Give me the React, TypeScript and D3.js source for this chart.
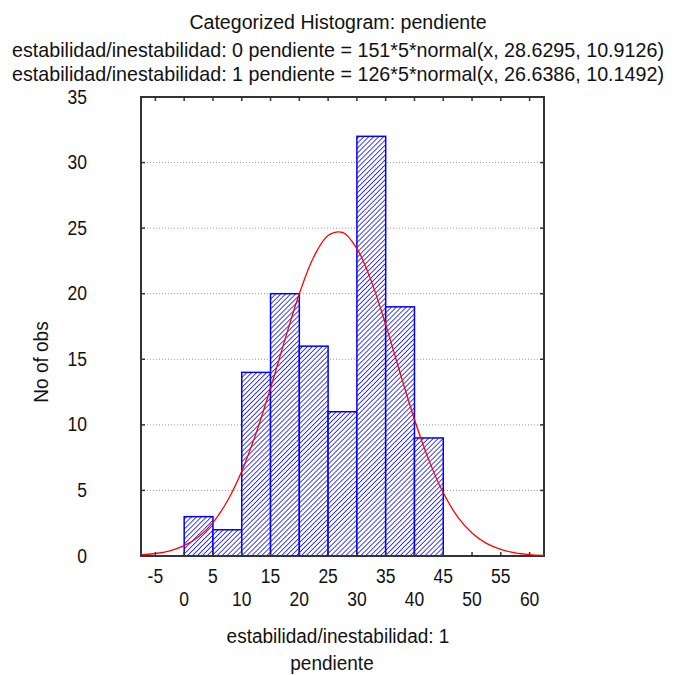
import * as d3 from 'd3';

// histogram for estabilidad/inestabilidad: 1, bins of width 5
const binStarts = [0, 5, 10, 15, 20, 25, 30, 35, 40];
const counts = [3, 2, 14, 20, 16, 11, 32, 19, 9];
const binWidth = 5;

// fitted normal curve
const curveX = [-7.5, -5, -2.5, 0, 2.5, 5, 7.5, 10, 12.5, 15, 17.5, 20, 22.5, 25, 27.5, 30, 32.5, 35, 37.5, 40, 42.5, 45, 47.5, 50, 52.5, 55, 57.5, 60, 62.5];
const curveY = [0.09, 0.19, 0.4, 0.79, 1.46, 2.55, 4.19, 6.46, 9.38, 12.8, 16.5, 20.0, 22.8, 24.44, 24.67, 23.44, 20.96, 17.64, 13.97, 10.41, 7.31, 4.82, 2.99, 1.75, 0.96, 0.5, 0.24, 0.11, 0.05];

const xTicks = [-5, 0, 5, 10, 15, 20, 25, 30, 35, 40, 45, 50, 55, 60];
const yTicks = [0, 5, 10, 15, 20, 25, 30, 35];

const title = 'Categorized Histogram: pendiente';
const subtitles = [
    'estabilidad/inestabilidad: 0 pendiente = 151*5*normal(x, 28.6295, 10.9126)',
    'estabilidad/inestabilidad: 1 pendiente = 126*5*normal(x, 26.6386, 10.1492)',
];
const xLabel = ['estabilidad/inestabilidad: 1', 'pendiente'];
const yLabel = 'No of obs';

const W = 675;
const H = 675;
const font = 'Arial, "Liberation Sans", sans-serif';
const ink = '#111';

// text in the reference is a little taller than it is wide
function Label({ x, y, size, anchor = 'middle', stretch = 1.12, children }: any) {
    return (
        <text
            transform={`translate(${x},${y}) scale(1,${stretch})`}
            textAnchor={anchor}
            fontSize={size}
            fill={ink}
        >
            {children}
        </text>
    );
}

export default function App() {
    const left = 141;
    const right = 544;
    const top = 97;
    const bottom = 556;

    const x = d3.scaleLinear().domain([-7.5, 62.5]).range([left, right]);
    const y = d3.scaleLinear().domain([0, 35]).range([bottom, top]);

    const line = d3
        .line<number>()
        .x((_, i) => x(curveX[i]))
        .y(d => y(d))
        .curve(d3.curveCatmullRom);

    return (
        <svg
            width={W}
            height={H}
            style={{ position: 'absolute', left: 0, top: 0, background: '#fff' }}
            fontFamily={font}
        >
            <defs>
                <pattern id="hatch" width="3.5" height="3.5" patternUnits="userSpaceOnUse" patternTransform="rotate(45)">
                    <rect width="3.5" height="3.5" fill="#fff" />
                    <line x1="0" y1="0" x2="0" y2="3.5" stroke="#0000ff" strokeWidth="1.5" />
                </pattern>
                <clipPath id="plot">
                    <rect x={left - 1} y={top} width={right - left + 2} height={bottom - top + 1} />
                </clipPath>
            </defs>

            <Label x={338} y={29} size={19.6} stretch={1.07}>
                {title}
            </Label>
            {subtitles.map((s, i) => (
                <Label key={s} x={338} y={56.5 + i * 24.5} size={19.7} stretch={1.07}>
                    {s}
                </Label>
            ))}

            {/* grid */}
            {yTicks
                .filter(t => t > 0 && t < 35)
                .map(t => (
                    <line
                        key={t}
                        x1={left}
                        x2={right}
                        y1={y(t)}
                        y2={y(t)}
                        stroke="#999"
                        strokeWidth={1}
                        strokeDasharray="1,2"
                    />
                ))}

            {/* bars */}
            {counts.map((c, i) => (
                <rect
                    key={i}
                    x={x(binStarts[i])}
                    y={y(c)}
                    width={x(binStarts[i] + binWidth) - x(binStarts[i])}
                    height={y(0) - y(c)}
                    fill="url(#hatch)"
                    stroke="#0000ff"
                    strokeWidth={1.5}
                />
            ))}

            {/* frame + ticks */}
            <rect x={left} y={top} width={right - left} height={bottom - top} fill="none" stroke="#333" strokeWidth={2} />
            {xTicks.map(t => (
                <g key={t}>
                    <line x1={x(t)} x2={x(t)} y1={top} y2={top + 4} stroke="#333" strokeWidth={1.5} />
                    <line x1={x(t)} x2={x(t)} y1={bottom} y2={bottom - 4} stroke="#333" strokeWidth={1.5} />
                    <Label x={x(t)} y={t % 10 === 0 ? 606 : 583} size={17.5}>
                        {t}
                    </Label>
                </g>
            ))}
            {yTicks.map(t => (
                <g key={t}>
                    <line x1={left} x2={left + 4} y1={y(t)} y2={y(t)} stroke="#333" strokeWidth={1.5} />
                    <line x1={right} x2={right - 4} y1={y(t)} y2={y(t)} stroke="#333" strokeWidth={1.5} />
                    <Label x={87} y={y(t) + 6.5} size={17.5} anchor="end">
                        {t}
                    </Label>
                </g>
            ))}

            <path d={line(curveY) ?? ''} fill="none" stroke="#ff0000" strokeWidth={1.3} clipPath="url(#plot)" />

            <Label x={338} y={643} size={19} stretch={1.08}>
                {xLabel[0]}
            </Label>
            <Label x={332} y={670} size={19} stretch={1.08}>
                {xLabel[1]}
            </Label>
            <text
                transform={`translate(48, 362) rotate(-90) scale(1,1.08)`}
                textAnchor="middle"
                fontSize={19}
                fill={ink}
            >
                {yLabel}
            </text>
        </svg>
    );
}
